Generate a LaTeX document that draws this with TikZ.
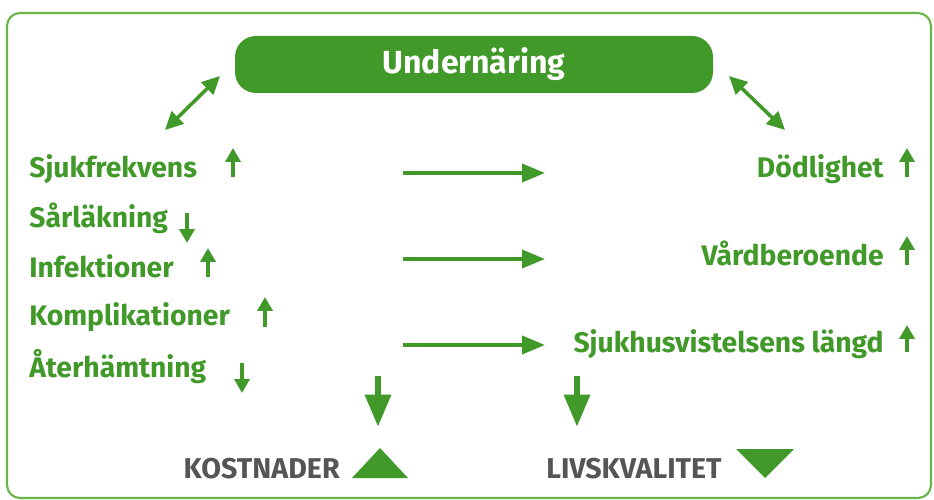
\documentclass[tikz,border=0pt]{standalone}
\usepackage{fontspec}
\setmainfont{Fira Sans}
\usepackage{tikz}
\usetikzlibrary{arrows.meta}
\definecolor{ngreen}{RGB}{64,153,40}
\definecolor{framegreen}{RGB}{105,180,75}
\definecolor{kgray}{RGB}{85,85,85}

\begin{document}
\begin{tikzpicture}[x=0.02cm,y=-0.02cm,
	item/.style={text=ngreen,font=\fontsize{16.1}{19}\selectfont\bfseries,inner sep=0pt},
	result/.style={text=kgray,font=\fontsize{16.3}{19}\selectfont\bfseries,inner sep=0pt},
	trend/.style={ngreen,line width=2pt,-{Triangle[length=2.8mm,width=3mm]}},
	flow/.style={ngreen,line width=2.2pt,-{Triangle[length=4.6mm,width=3.6mm]}},
	effect/.style={ngreen,line width=3.8pt,-{Triangle[length=6.5mm,width=5mm]}},
	link/.style={ngreen,line width=2pt,{Triangle[length=3.6mm,width=3.4mm]}-{Triangle[length=3.6mm,width=3.4mm]}}]

	%picture size in pixels of the original
	\useasboundingbox (0,0) rectangle (934,500);

	%outer frame
	\draw[framegreen,line width=1.2pt,rounded corners=0.26cm] (7,13) rectangle (931,498);

	%Undernaring box on top
	\node[fill=ngreen,rounded corners=0.42cm,minimum width=478*0.02cm,minimum height=57*0.02cm,
		text=white,font=\fontsize{18.2}{21}\selectfont\bfseries] (under) at (474,64.5) {Undernäring};

	%double arrows from the box
	\coordinate (ul) at (220,76);
	\coordinate (ul2) at (165,130);
	\coordinate (ur) at (729,76);
	\coordinate (ur2) at (785,130);
	\draw[link] (ul) -- (ul2);
	\draw[link] (ur) -- (ur2);

	%left column, anchored at the baseline
	\node[item,anchor=base west] (sjuk) at (29,177) {Sjukfrekvens};
	\node[item,anchor=base west] (sar) at (29,228) {Sårläkning};
	\node[item,anchor=base west] (inf) at (29,277) {Infektioner};
	\node[item,anchor=base west] (kompl) at (29,325) {Komplikationer};
	\node[item,anchor=base west] (ater) at (29,377) {Återhämtning};

	%up and down marks of the left column
	\coordinate (sjuk-lo) at (233,177);
	\coordinate (sjuk-hi) at (233,148);
	\coordinate (sar-hi) at (187,213);
	\coordinate (sar-lo) at (187,243);
	\coordinate (inf-lo) at (208,277);
	\coordinate (inf-hi) at (208,248);
	\coordinate (kompl-lo) at (265,327);
	\coordinate (kompl-hi) at (265,297);
	\coordinate (ater-hi) at (242,363);
	\coordinate (ater-lo) at (242,393);
	\draw[trend] (sjuk-lo) -- (sjuk-hi);
	\draw[trend] (sar-hi) -- (sar-lo);
	\draw[trend] (inf-lo) -- (inf-hi);
	\draw[trend] (kompl-lo) -- (kompl-hi);
	\draw[trend] (ater-hi) -- (ater-lo);

	%right column
	\node[item,anchor=base east] (dod) at (884,177) {Dödlighet};
	\node[item,anchor=base east] (vard) at (884,265) {Vårdberoende};
	\node[item,anchor=base east] (sjukhus) at (884,352) {Sjukhusvistelsens längd};

	\coordinate (dod-lo) at (907,177);
	\coordinate (dod-hi) at (907,148);
	\coordinate (vard-lo) at (907,265);
	\coordinate (vard-hi) at (907,236);
	\coordinate (sjukhus-lo) at (907,352);
	\coordinate (sjukhus-hi) at (907,325);
	\draw[trend] (dod-lo) -- (dod-hi);
	\draw[trend] (vard-lo) -- (vard-hi);
	\draw[trend] (sjukhus-lo) -- (sjukhus-hi);

	%arrows in the middle
	\coordinate (m1) at (403,173);
	\coordinate (m1e) at (545,173);
	\coordinate (m2) at (403,259);
	\coordinate (m2e) at (545,259);
	\coordinate (m3) at (403,345);
	\coordinate (m3e) at (545,345);
	\draw[flow] (m1) -- (m1e);
	\draw[flow] (m2) -- (m2e);
	\draw[flow] (m3) -- (m3e);

	%costs and quality of life
	\coordinate (k1) at (378,376);
	\coordinate (k1e) at (378,427);
	\coordinate (l1) at (577,376);
	\coordinate (l1e) at (577,427);
	\draw[effect] (k1) -- (k1e);
	\draw[effect] (l1) -- (l1e);

	\node[result,anchor=base east] (kost) at (340,478) {KOSTNADER};
	\node[result,anchor=base west] (livs) at (546,478) {LIVSKVALITET};

	\fill[ngreen] (352,478) -- (408,478) -- (380,448) -- cycle;
	\fill[ngreen] (736,449) -- (794,449) -- (765,478) -- cycle;

\end{tikzpicture}
\end{document}
